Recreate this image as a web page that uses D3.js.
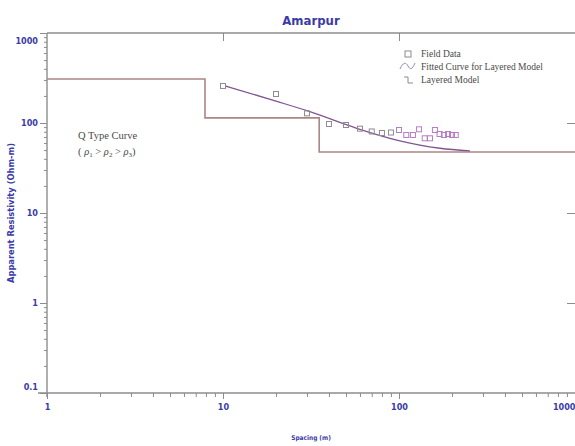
<!DOCTYPE html>
<html>
<head>
<meta charset="utf-8">
<script src="https://cdn.jsdelivr.net/npm/d3@7"></script>
<style>
body { margin: 0; background: #fff; }
svg { display: block; }
.lbl { fill: #3b3ba8; font-family: "Liberation Sans Narrow", "DejaVu Sans Condensed", "DejaVu Sans", sans-serif; font-weight: bold; }
.serif { font-family: "Liberation Serif", "DejaVu Serif", serif; fill: #4a4a4a; }
</style>
</head>
<body>
<div id="chart"></div>
<script>
// Field data (electrode spacing in m, apparent resistivity in Ohm-m)
const spacing = [10, 20, 30, 40, 50, 60, 70, 80, 90, 100, 110, 120, 130, 140, 150, 160, 170, 180, 190, 200, 210];
const resistivity = [258, 210, 128, 97.5, 95, 86.5, 80.5, 77.4, 78.4, 83.6, 73.6, 73.6, 85.1, 67.6, 67.6, 83.6, 75.5, 73.6, 75.5, 73.6, 73.6];

// Fitted curve for layered model
const fitSpacing = [10.3, 20, 31.2, 57.5, 97, 171, 253];
const fitRho = [258, 175, 133.6, 87.3, 64.7, 52.4, 48.9];

// Layered model: layer boundaries (m) and layer resistivities (Ohm-m)
const layerDepth = [7.9, 35.2];
const layerRho = [308, 114, 47.6];

const xTickLabels = ["1", "10", "100", "1000"];
const yTickLabels = ["0.1", "1", "10", "100", "1000"];

const W = 575, H = 446;
const frameTop = 33, frameBottom = 393, frameLeft = 47, frameRight = 575;

const svg = d3.select("#chart").append("svg")
    .attr("width", W)
    .attr("height", H);

const x = d3.scaleLog().domain([1, 1000]).range([frameLeft, frameRight]);
const y = d3.scaleLog().domain([0.1, 1000]).range([frameBottom, frameTop]);
const isMajor = d => Math.abs(Math.log10(d) - Math.round(Math.log10(d))) < 1e-9;

// minor tick values
const xMinor = [];
for (let p = 0; p < 3; p++) for (let k = 1; k < 10; k++) xMinor.push(k * Math.pow(10, p));
xMinor.push(1000);
const yMinor = [];
for (let p = -1; p < 3; p++) for (let k = 1; k < 10; k++) yMinor.push(k * Math.pow(10, p));
yMinor.push(1000);

// Frame lines
const frameColor = "#8d8d8d";
svg.append("line").attr("x1", frameLeft).attr("x2", frameRight)
    .attr("y1", frameTop).attr("y2", frameTop)
    .attr("stroke", frameColor).attr("stroke-width", 1.4);
svg.append("line").attr("x1", frameLeft).attr("x2", frameLeft)
    .attr("y1", frameTop).attr("y2", frameBottom + 4)
    .attr("stroke", frameColor).attr("stroke-width", 1.4);
svg.append("line").attr("x1", 38).attr("x2", frameRight)
    .attr("y1", frameBottom).attr("y2", frameBottom)
    .attr("stroke", frameColor).attr("stroke-width", 1.4);

// Bottom axis
const xAxis = d3.axisBottom(x)
    .tickValues(xMinor)
    .tickSize(4)
    .tickFormat(d => isMajor(d) ? xTickLabels[Math.round(Math.log10(d))] : "");
const gx = svg.append("g").attr("transform", `translate(0,${frameBottom})`).call(xAxis);
gx.select(".domain").remove();
gx.selectAll(".tick line").attr("stroke", frameColor);
gx.selectAll(".tick").filter(isMajor).select("line").attr("y2", 6);
gx.selectAll(".tick text").attr("class", "lbl").attr("font-size", 9).attr("y", 17).attr("dy", 0);
gx.selectAll(".tick").filter(d => d === 1000).select("text")
    .attr("text-anchor", "end").attr("x", 0);

// Top axis: major ticks only, inward
const gxt = svg.append("g").attr("transform", `translate(0,${frameTop})`)
    .call(d3.axisBottom(x).tickValues([10, 100]).tickSize(8).tickFormat(""));
gxt.select(".domain").remove();
gxt.selectAll(".tick line").attr("stroke", frameColor);

// Left axis
const yAxis = d3.axisLeft(y)
    .tickValues(yMinor)
    .tickSize(3)
    .tickFormat(d => isMajor(d) ? yTickLabels[Math.round(Math.log10(d)) + 1] : "");
const gy = svg.append("g").attr("transform", `translate(${frameLeft},0)`).call(yAxis);
gy.select(".domain").remove();
gy.selectAll(".tick line").attr("stroke", frameColor);
gy.selectAll(".tick").filter(isMajor).select("line").attr("x2", -7);
gy.selectAll(".tick text").attr("class", "lbl").attr("font-size", 9).attr("x", -9);
gy.selectAll(".tick").filter(d => d === 1000).select("text").attr("dy", "1.15em");
gy.selectAll(".tick").filter(d => d === 0.1).select("text").attr("dy", "-0.4em");

// Right axis: major ticks inward
const gyr = svg.append("g").attr("transform", `translate(${frameRight},0)`)
    .call(d3.axisLeft(y).tickValues([1, 10, 100]).tickSize(8).tickFormat(""));
gyr.select(".domain").remove();
gyr.selectAll(".tick line").attr("stroke", frameColor);

// Title and axis titles
const plotMid = (frameLeft + frameRight) / 2;
svg.append("text").attr("class", "lbl").attr("x", plotMid).attr("y", 25)
    .attr("text-anchor", "middle").attr("font-size", 13).text("Amarpur");
svg.append("text").attr("class", "lbl").attr("x", plotMid).attr("y", 440)
    .attr("text-anchor", "middle").attr("font-size", 6.5).text("Spacing (m)");
svg.append("text").attr("class", "lbl")
    .attr("transform", `translate(14,${(frameTop + frameBottom) / 2}) rotate(-90)`)
    .attr("text-anchor", "middle").attr("font-size", 8)
    .attr("textLength", 140).attr("lengthAdjust", "spacingAndGlyphs")
    .text("Apparent Resistivity (Ohm-m)");

// Layered model step line
const layerPts = [[1, layerRho[0]]];
layerDepth.forEach((d, i) => layerPts.push([d, layerRho[i + 1]]));
layerPts.push([1000, layerRho[layerRho.length - 1]]);
svg.append("path")
    .datum(layerPts)
    .attr("fill", "none")
    .attr("stroke", "#ad8585")
    .attr("stroke-width", 1.6)
    .attr("d", d3.line().x(d => x(d[0])).y(d => y(d[1])).curve(d3.curveStepAfter));

// Fitted curve
svg.append("path")
    .datum(fitSpacing.map((s, i) => [s, fitRho[i]]))
    .attr("fill", "none")
    .attr("stroke", "#825493")
    .attr("stroke-width", 1.3)
    .attr("d", d3.line().x(d => x(d[0])).y(d => y(d[1])).curve(d3.curveMonotoneX));

// Field data squares
svg.append("g").selectAll("rect")
    .data(spacing.map((s, i) => ({ s, r: resistivity[i], i })))
    .join("rect")
    .attr("x", d => x(d.s) - 2.5)
    .attr("y", d => y(d.r) - 2.5)
    .attr("width", 5).attr("height", 5)
    .attr("fill", "none")
    .attr("stroke", d => d.i < 9 ? "#8c8c8c" : "#b67cc4")
    .attr("stroke-width", 1);

// Legend
const lg = svg.append("g");
lg.append("rect").attr("x", 405).attr("y", 51).attr("width", 6).attr("height", 6)
    .attr("fill", "none").attr("stroke", "#8c8c8c");
lg.append("path").attr("d", "M400,69 C403,62 406,62 408,66 S412,70 415,63")
    .attr("fill", "none").attr("stroke", "#9a8aa8").attr("stroke-width", 1);
lg.append("path").attr("d", "M404,77 L408,77 L408,83 L413,83")
    .attr("fill", "none").attr("stroke", "#8c8c8c").attr("stroke-width", 1);
const legendItems = ["Field Data", "Fitted Curve for Layered Model", "Layered Model"];
lg.selectAll("text.leg").data(legendItems).join("text")
    .attr("class", "serif leg")
    .attr("x", 421).attr("y", (d, i) => 57 + i * 13)
    .attr("font-size", 9.5)
    .text(d => d);

// Curve type annotation
const ann = svg.append("g").attr("class", "serif").attr("font-size", 10.5);
ann.append("text").attr("x", 78).attr("y", 139).text("Q Type Curve");
const t2 = ann.append("text").attr("x", 78).attr("y", 155);
t2.append("tspan").text("( ");
[["1", " > "], ["2", " > "], ["3", ")"]].forEach(([sub, after]) => {
    t2.append("tspan").attr("font-style", "italic").text("ρ");
    t2.append("tspan").attr("font-size", 7).attr("dy", 2).text(sub);
    t2.append("tspan").attr("dy", -2).text(after);
});
</script>
</body>
</html>
